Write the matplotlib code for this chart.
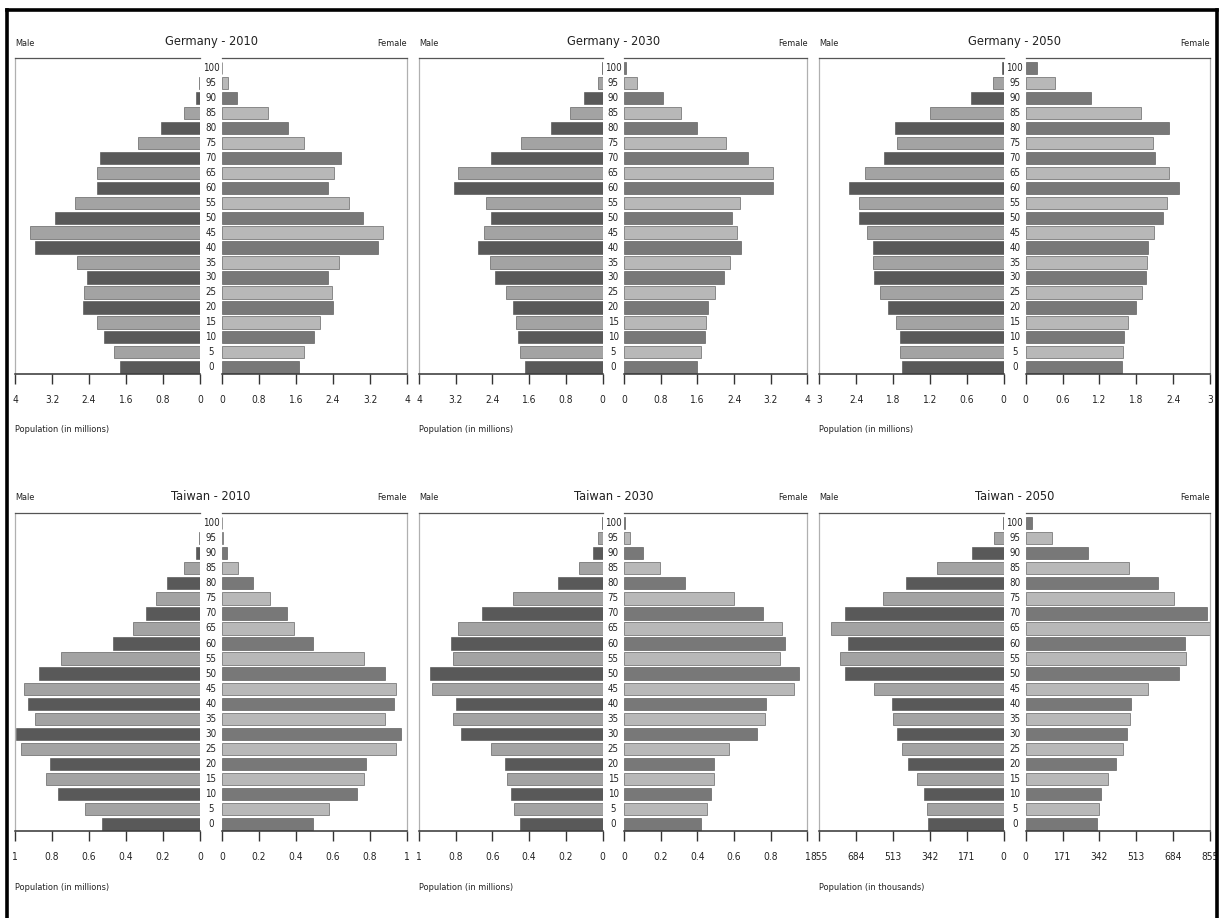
import matplotlib
matplotlib.use("Agg")
import matplotlib.pyplot as plt
from matplotlib import font_manager
from matplotlib.lines import Line2D
from matplotlib.transforms import blended_transform_factory

# ---- data: population by 5-year age group (0 ... 100) ----
ages = [0, 5, 10, 15, 20, 25, 30, 35, 40, 45, 50, 55, 60, 65, 70, 75, 80, 85, 90, 95, 100]

germany_2010_male = [1.74, 1.87, 2.08, 2.23, 2.53, 2.50, 2.44, 2.65, 3.56, 3.68, 3.14,
                     2.70, 2.23, 2.23, 2.16, 1.33, 0.84, 0.35, 0.09, 0.03, 0.01]
germany_2010_female = [1.66, 1.77, 1.98, 2.12, 2.41, 2.38, 2.30, 2.52, 3.37, 3.49, 3.05,
                       2.75, 2.30, 2.43, 2.57, 1.77, 1.43, 1.00, 0.33, 0.13, 0.01]

germany_2030_male = [1.70, 1.79, 1.85, 1.88, 1.95, 2.11, 2.34, 2.45, 2.71, 2.59, 2.43,
                     2.54, 3.23, 3.14, 2.42, 1.77, 1.13, 0.71, 0.40, 0.09, 0.02]
germany_2030_female = [1.60, 1.68, 1.76, 1.79, 1.83, 1.98, 2.19, 2.30, 2.56, 2.47, 2.35,
                       2.52, 3.25, 3.25, 2.71, 2.23, 1.60, 1.25, 0.84, 0.28, 0.05]

germany_2050_male = [1.66, 1.68, 1.69, 1.76, 1.88, 2.02, 2.11, 2.12, 2.12, 2.22, 2.35,
                     2.36, 2.51, 2.25, 1.94, 1.74, 1.77, 1.20, 0.54, 0.17, 0.03]
germany_2050_female = [1.57, 1.58, 1.60, 1.66, 1.79, 1.89, 1.96, 1.98, 1.99, 2.08, 2.24,
                       2.30, 2.49, 2.33, 2.10, 2.07, 2.33, 1.87, 1.07, 0.48, 0.18]

taiwan_2010_male = [0.53, 0.62, 0.77, 0.83, 0.81, 0.97, 0.995, 0.89, 0.93, 0.95, 0.87,
                    0.75, 0.47, 0.36, 0.29, 0.24, 0.18, 0.086, 0.022, 0.005, 0.002]
taiwan_2010_female = [0.49, 0.58, 0.73, 0.77, 0.78, 0.94, 0.97, 0.88, 0.93, 0.94, 0.88,
                      0.77, 0.49, 0.39, 0.35, 0.26, 0.17, 0.087, 0.025, 0.005, 0.002]

taiwan_2030_male = [0.45, 0.48, 0.50, 0.52, 0.53, 0.61, 0.77, 0.815, 0.80, 0.93, 0.94,
                    0.815, 0.824, 0.786, 0.657, 0.486, 0.245, 0.127, 0.054, 0.022, 0.005]
taiwan_2030_female = [0.42, 0.454, 0.474, 0.489, 0.493, 0.573, 0.726, 0.766, 0.774, 0.927, 0.956,
                      0.85, 0.876, 0.86, 0.76, 0.60, 0.33, 0.197, 0.106, 0.033, 0.003]

# thousands
taiwan_2050_male = [350, 358, 369, 400, 443, 474, 497, 512, 519, 600, 738,
                    758, 722, 801, 738, 560, 455, 309, 148, 45, 6]
taiwan_2050_female = [332, 340, 348, 380, 421, 453, 470, 484, 487, 566, 713,
                      745, 737, 855, 841, 688, 615, 481, 288, 121, 31]

# ---- axis ticks ----
ticks_germany = [0, 0.8, 1.6, 2.4, 3.2, 4]
labels_germany = ["0", "0.8", "1.6", "2.4", "3.2", "4"]
ticks_germany_2050 = [0, 0.6, 1.2, 1.8, 2.4, 3]
labels_germany_2050 = ["0", "0.6", "1.2", "1.8", "2.4", "3"]
ticks_taiwan = [0, 0.2, 0.4, 0.6, 0.8, 1]
labels_taiwan = ["0", "0.2", "0.4", "0.6", "0.8", "1"]
ticks_taiwan_2050 = [0, 171, 342, 513, 684, 855]
labels_taiwan_2050 = ["0", "171", "342", "513", "684", "855"]

titles = ["Germany - 2010", "Germany - 2030", "Germany - 2050",
          "Taiwan - 2010", "Taiwan - 2030", "Taiwan - 2050"]
units = ["Population (in millions)"] * 5 + ["Population (in thousands)"]

panels = [
    (germany_2010_male, germany_2010_female, ticks_germany, labels_germany),
    (germany_2030_male, germany_2030_female, ticks_germany, labels_germany),
    (germany_2050_male, germany_2050_female, ticks_germany_2050, labels_germany_2050),
    (taiwan_2010_male, taiwan_2010_female, ticks_taiwan, labels_taiwan),
    (taiwan_2030_male, taiwan_2030_female, ticks_taiwan, labels_taiwan),
    (taiwan_2050_male, taiwan_2050_female, ticks_taiwan_2050, labels_taiwan_2050),
]

# ---- fonts: prefer a condensed face when one is installed ----
fonts = font_manager.fontManager.ttflist
condensed = any(f.name == "DejaVu Sans" and "condensed" in str(f.stretch) for f in fonts)
plt.rcParams["font.family"] = ["DejaVu Sans"]
if condensed:
    plt.rcParams["font.stretch"] = "condensed"
    SZ = dict(title=9.2, tick=7.3, age=7, small=6.6)
else:
    SZ = dict(title=8, tick=6.5, age=6, small=5.8)

MALE_DARK, MALE_LIGHT = "#595959", "#a3a3a3"
FEMALE_DARK, FEMALE_LIGHT = "#787878", "#b8b8b8"
TEXT = "#222222"

W, H = 1221, 918
fig = plt.figure(figsize=(W / 100, H / 100), dpi=100)
fig.patch.set_facecolor("white")


def px_axes(x0, y_top, w, h):
    return fig.add_axes([x0 / W, 1 - (y_top + h) / H, w / W, h / H])


col_x = [15, 419, 819.3]
col_w = [185, 183.5, 184.5]
col_gap = [22, 21.5, 21.8]
row_top = [58, 513]
row_bottom = [374, 831]

for i, (male, female, ticks, tlabels) in enumerate(panels):
    r, c = divmod(i, 3)
    x0, AX_W, GAP = col_x[c], col_w[c], col_gap[c]
    top, bot = row_top[r], row_bottom[r]
    h = bot - top
    xmax = ticks[-1]
    idx = list(range(len(ages)))
    male_cols = [MALE_DARK if k % 2 == 0 else MALE_LIGHT for k in idx]
    female_cols = [FEMALE_DARK if k % 2 == 0 else FEMALE_LIGHT for k in idx]

    axL = px_axes(x0, top, AX_W, h)
    axR = px_axes(x0 + AX_W + GAP, top, AX_W, h)

    axL.barh(idx, male, height=0.82, color=male_cols, edgecolor="#4a4a4a", linewidth=0.4)
    axR.barh(idx, female, height=0.82, color=female_cols, edgecolor="#4a4a4a", linewidth=0.4)

    for ax in (axL, axR):
        ax.set_xlim(0, xmax)
        ax.set_ylim(-0.45, 20.67)
        ax.set_yticks([])
        ax.set_xticks(ticks)
        ax.set_xticklabels(tlabels)
        ax.tick_params(axis="x", direction="out", length=7, width=1.0,
                       color="#333333", pad=8, labelsize=SZ["tick"], labelcolor=TEXT)
        ax.spines["bottom"].set_color("#333333")
        ax.spines["bottom"].set_linewidth(1.1)
        ax.spines["top"].set_color("#555555")
        ax.spines["top"].set_linewidth(0.9)
        for s in ("left", "right"):
            ax.spines[s].set_color("#b0b0b0")
            ax.spines[s].set_linewidth(0.9)
    axL.invert_xaxis()
    axL.spines["right"].set_visible(False)
    axR.spines["left"].set_visible(False)

    # age labels in the gap between the two halves
    trans = blended_transform_factory(axL.transAxes, axL.transData)
    for k, a in enumerate(ages):
        axL.text(1 + (GAP / 2) / AX_W, k, str(a), transform=trans, ha="center",
                 va="center", fontsize=SZ["age"], color=TEXT, clip_on=False)

    cx = x0 + AX_W + GAP / 2
    right_edge = x0 + 2 * AX_W + GAP
    title_y = top - 16
    fig.text(cx / W, 1 - title_y / H, titles[i], ha="center", va="center",
             fontsize=SZ["title"], color=TEXT)
    fig.text(x0 / W, 1 - (title_y + 1) / H, "Male", ha="left", va="center",
             fontsize=SZ["small"], color=TEXT)
    fig.text(right_edge / W, 1 - (title_y + 1) / H, "Female", ha="right", va="center",
             fontsize=SZ["small"], color=TEXT)
    fig.text(x0 / W, 1 - (bot + 56) / H, units[i], ha="left", va="center",
             fontsize=SZ["small"], color=TEXT)

# outer frame (open at the bottom)
frame_kw = dict(color="black", linewidth=2.6, transform=fig.transFigure)
fig.add_artist(Line2D([7 / W, 1217 / W], [1 - 10 / H, 1 - 10 / H], **frame_kw))
fig.add_artist(Line2D([7 / W, 7 / W], [1 - 10 / H, 0], **frame_kw))
fig.add_artist(Line2D([1217 / W, 1217 / W], [1 - 10 / H, 0], **frame_kw))

fig.savefig("out.png", dpi=100, facecolor="white")
